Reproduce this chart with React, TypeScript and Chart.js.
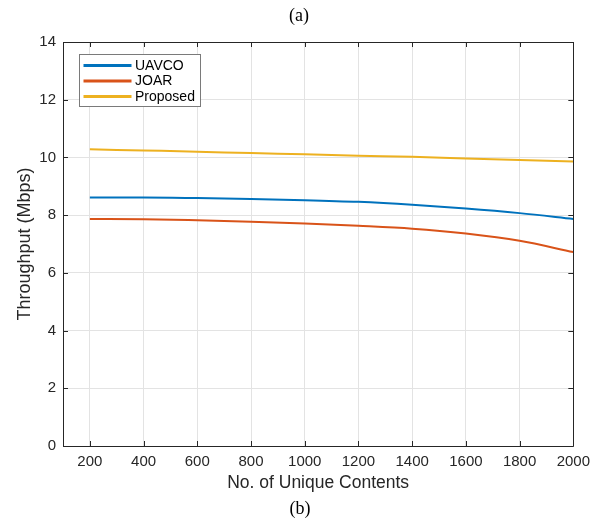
import React, { useEffect, useRef } from "react";
import { Chart, registerables } from "chart.js";

Chart.register(...registerables);

const contents = [200, 400, 600, 800, 1000, 1200, 1400, 1600, 1800, 2000];
const uavco = [8.61, 8.61, 8.59, 8.56, 8.52, 8.46, 8.36, 8.23, 8.07, 7.87];
const joar = [7.87, 7.86, 7.82, 7.77, 7.71, 7.63, 7.53, 7.36, 7.11, 6.72];
const proposed = [10.28, 10.24, 10.2, 10.15, 10.11, 10.06, 10.02, 9.96, 9.91, 9.86];
const seriesNames = ["UAVCO", "JOAR", "Proposed"];
const xTicks = [200, 400, 600, 800, 1000, 1200, 1400, 1600, 1800, 2000];
const yTicks = [0, 2, 4, 6, 8, 10, 12, 14];
const topLabel = "(a)";
const bottomLabel = "(b)";
const xTitle = "No. of Unique Contents";
const yTitle = "Throughput (Mbps)";

const colors = ["#0072BD", "#D95319", "#EDB120"];
const SANS = "'Liberation Sans', Arial, Helvetica, sans-serif";
const SERIF = "'Liberation Serif', 'Times New Roman', serif";

const framePlugin = {
  id: "frame",
  afterDatasetsDraw(chart: any) {
    const { ctx, chartArea: a, scales } = chart;
    const xs = scales.x;
    const ys = scales.y;
    ctx.save();
    ctx.strokeStyle = "#262626";
    ctx.lineWidth = 1;
    ctx.beginPath();
    ctx.rect(Math.round(a.left) + 0.5, Math.round(a.top) + 0.5, Math.round(a.right - a.left), Math.round(a.bottom - a.top));
    ctx.stroke();
    const tl = 5;
    ctx.beginPath();
    for (const v of xTicks) {
      const px = Math.round(xs.getPixelForValue(v)) + 0.5;
      ctx.moveTo(px, a.bottom);
      ctx.lineTo(px, a.bottom - tl);
      ctx.moveTo(px, a.top);
      ctx.lineTo(px, a.top + tl);
    }
    for (const v of yTicks) {
      const py = Math.round(ys.getPixelForValue(v)) + 0.5;
      ctx.moveTo(a.left, py);
      ctx.lineTo(a.left + tl, py);
      ctx.moveTo(a.right, py);
      ctx.lineTo(a.right - tl, py);
    }
    ctx.stroke();

    // legend
    const bx = a.left + 16.5;
    const by = a.top + 12.5;
    const bw = 121;
    const bh = 52;
    ctx.fillStyle = "#ffffff";
    ctx.fillRect(bx, by, bw, bh);
    ctx.strokeStyle = "#7a7a7a";
    ctx.lineWidth = 1;
    ctx.strokeRect(bx, by, bw, bh);
    ctx.font = `14px ${SANS}`;
    ctx.textBaseline = "middle";
    ctx.textAlign = "left";
    chart.data.datasets.forEach((ds: any, i: number) => {
      const cy = by + 11 + i * 15.5;
      ctx.strokeStyle = ds.borderColor;
      ctx.lineWidth = 3;
      ctx.beginPath();
      ctx.moveTo(bx + 4, cy);
      ctx.lineTo(bx + 52, cy);
      ctx.stroke();
      ctx.fillStyle = "#000000";
      ctx.fillText(ds.label, bx + 55.5, cy + 0.5);
    });

    // captions
    ctx.font = `18px ${SERIF}`;
    ctx.textAlign = "center";
    ctx.fillStyle = "#000000";
    ctx.fillText(topLabel, 299, 16);
    ctx.fillText(bottomLabel, 300, 509);
    ctx.restore();
  },
};

export default function App() {
  const ref = useRef<HTMLCanvasElement | null>(null);
  useEffect(() => {
    const series = [uavco, joar, proposed];
    const chart = new Chart(ref.current as HTMLCanvasElement, {
      type: "line",
      data: {
        datasets: series.map((s, i) => ({
          label: seriesNames[i],
          data: contents.map((x, j) => ({ x, y: s[j] })),
          borderColor: colors[i],
          backgroundColor: colors[i],
          borderWidth: 2,
          pointRadius: 0,
          cubicInterpolationMode: "monotone" as const,
          fill: false,
        })),
      },
      options: {
        animation: false,
        responsive: false,
        maintainAspectRatio: false,
        layout: { padding: { top: 42, right: 23, left: 0, bottom: 0 } },
        plugins: {
          legend: { display: false },
          tooltip: { enabled: false },
          title: { display: false },
        },
        scales: {
          x: {
            type: "linear",
            min: 100,
            max: 2000,
            afterBuildTicks: (scale: any) => {
              scale.ticks = xTicks.map((v) => ({ value: v }));
            },
            afterFit: (scale: any) => {
              scale.height = 76;
            },
            grid: { color: "#e3e3e3", drawTicks: false, lineWidth: 1 },
            border: { display: false },
            ticks: {
              padding: 7,
              color: "#262626",
              font: { family: SANS, size: 15 },
              maxRotation: 0,
              autoSkip: false,
              callback: (v: any) => String(v),
            },
            title: {
              display: true,
              text: xTitle,
              color: "#262626",
              font: { family: SANS, size: 17.5 },
              padding: { top: 0, bottom: 28.5 },
            },
          },
          y: {
            type: "linear",
            min: 0,
            max: 14,
            afterBuildTicks: (scale: any) => {
              scale.ticks = yTicks.map((v) => ({ value: v }));
            },
            afterFit: (scale: any) => {
              scale.width = 63;
            },
            grid: { color: "#e3e3e3", drawTicks: false, lineWidth: 1 },
            border: { display: false },
            ticks: {
              padding: 7,
              color: "#262626",
              font: { family: SANS, size: 15 },
              autoSkip: false,
              callback: (v: any) => String(v),
            },
            title: {
              display: true,
              text: yTitle,
              color: "#262626",
              font: { family: SANS, size: 18 },
              padding: { top: 14, bottom: 0 },
            },
          },
        },
      },
      plugins: [framePlugin],
    });
    return () => chart.destroy();
  }, []);
  return (
    <div style={{ position: "absolute", left: 0, top: 0, width: 597, height: 522, background: "#fff" }}>
      <canvas ref={ref} width={597} height={522} style={{ display: "block" }} />
    </div>
  );
}
